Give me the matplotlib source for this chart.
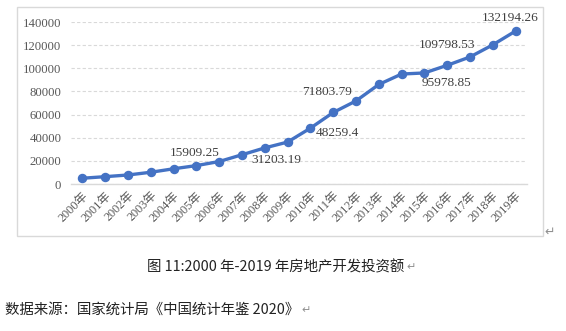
import matplotlib.pyplot as plt
from matplotlib.patches import Rectangle

years = [f'{y}年' for y in range(2000, 2020)]
invest = [4984.05, 6344.11, 7790.92, 10153.80, 13158.25, 15909.25, 19422.92,
          25288.84, 31203.19, 36241.81, 48259.40, 61796.89, 71803.79,
          86013.38, 95035.61, 95978.85, 102580.61, 109798.53, 120263.51,
          132194.26]
yticks = [0, 20000, 40000, 60000, 80000, 100000, 120000, 140000]

# which points get a value label, and where the label sits (pixels)
label_offsets = {5: (-2, 13), 8: (12, -12), 10: (27, -5), 12: (-29, 9),
                 15: (22, -10), 17: (-23, 12), 19: (-5, 13)}

blue = '#4472C4'
serif = ['Liberation Serif', 'DejaVu Serif']
cjk = ['Noto Sans CJK SC', 'DejaVu Sans']


def fmt(v):
    return f'{v:.2f}'.rstrip('0').rstrip('.')


fig = plt.figure(figsize=(5.66, 3.31), dpi=100)

# chart frame
fig.patches.append(Rectangle((0.030, 0.287), 0.929, 0.692, transform=fig.transFigure,
                             fill=False, edgecolor='#d9d9d9', linewidth=1.0))

ax = fig.add_axes([0.1254, 0.4441, 0.8057, 0.4894])
x = range(len(years))
ax.plot(x, invest, color=blue, linewidth=2.4, marker='o', markersize=5.8,
        zorder=3)
ax.set_xlim(-0.5, len(years) - 0.5)
ax.set_ylim(0, 140000)
ax.set_yticks(yticks)
ax.set_yticklabels([str(v) for v in yticks], family=serif, fontsize=9.2,
                   color='#595959')
ax.set_xticks(list(x))
ax.set_xticklabels(years, rotation=45, ha='right', va='top',
                   rotation_mode='anchor', fontsize=8.8, color='#595959',
                   family=['Liberation Serif', 'Noto Sans CJK SC'])
ax.tick_params(axis='y', length=0, pad=7)
ax.tick_params(axis='x', length=0, pad=4)
ax.grid(axis='y', color='#d9d9d9', linestyle=(0, (3, 2)), linewidth=0.8)
ax.set_axisbelow(True)
for s in ('top', 'right', 'left'):
    ax.spines[s].set_visible(False)
ax.spines['bottom'].set_color('#d9d9d9')
ax.spines['bottom'].set_linewidth(1.0)

for i, (dx, dy) in label_offsets.items():
    ax.annotate(fmt(invest[i]), (i, invest[i]), xytext=(dx, dy),
                textcoords='offset pixels', ha='center', va='center',
                family=serif, fontsize=9.6, color='#404040')


def para_mark(anchor):
    ax.annotate('↵', xy=(1, 0.5), xycoords=anchor, xytext=(2, 0),
                textcoords='offset pixels', ha='left', va='center',
                family=cjk, fontsize=8, color='#909090', annotation_clip=False)


fig.text(0.962, 0.298, '↵', color='#909090', fontsize=9, family=cjk,
         ha='left', va='center')
cap = fig.text(0.26, 0.193, '图 11:2000 年-2019 年房地产开发投资额', family=cjk,
               fontsize=10.4, color='#222222', ha='left', va='center')
src = fig.text(0.009, 0.063, '数据来源：国家统计局《中国统计年鉴 2020》', family=cjk,
               fontsize=10.4, color='#222222', ha='left', va='center')
para_mark(cap)
para_mark(src)

fig.savefig('out.png', dpi=100)
